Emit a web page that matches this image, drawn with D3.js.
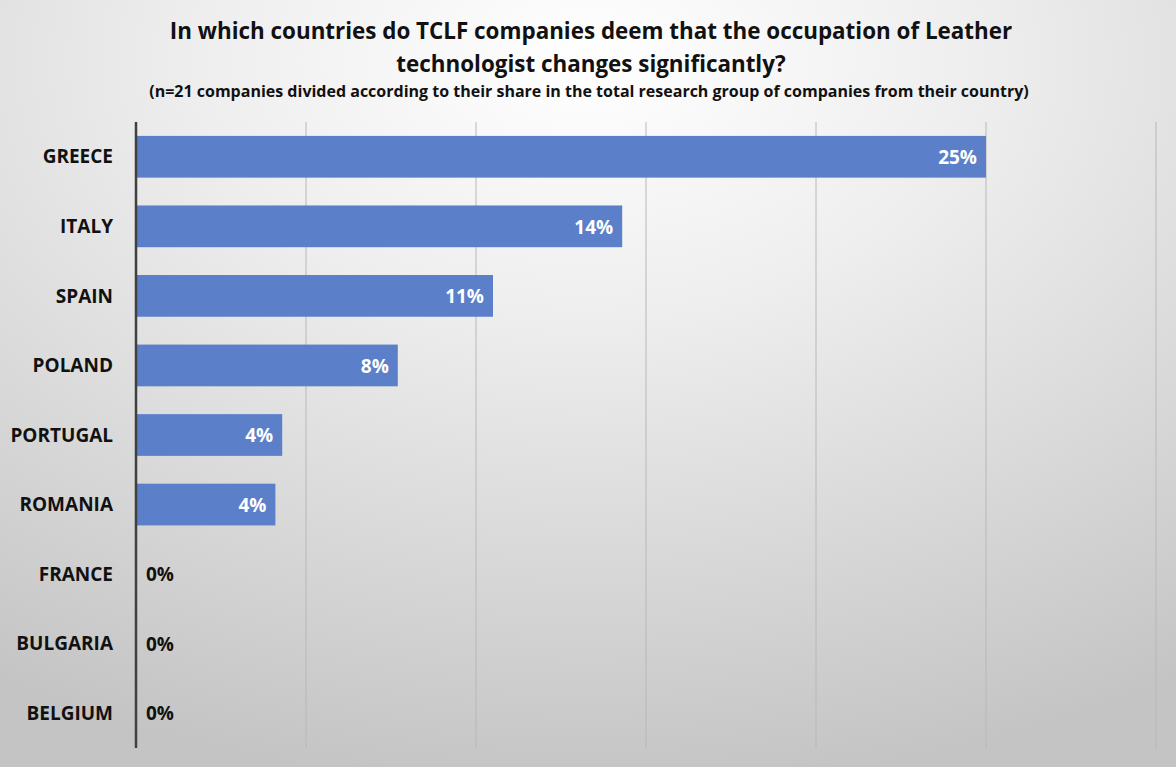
<!DOCTYPE html>
<html><head><meta charset="utf-8">
<script src="https://cdn.jsdelivr.net/npm/d3@7"></script>
<style>html,body{margin:0;padding:0;overflow:hidden;background:#fff}</style>
</head><body><svg id="chart" width="1176" height="767"></svg>
<script>
const categories = ["GREECE","ITALY","SPAIN","POLAND","PORTUGAL","ROMANIA","FRANCE","BULGARIA","BELGIUM"];
const values = [25, 14.3, 10.5, 7.7, 4.3, 4.1, 0, 0, 0];
const valueLabels = ["25%","14%","11%","8%","4%","4%","0%","0%","0%"];
const xTicks = [0,5,10,15,20,25,30];
const titleLines = ["In which countries do TCLF companies deem that the occupation of Leather","technologist changes significantly?"];
const subtitle = "(n=21 companies divided according to their share in the total research group of companies from their country)";

const W = 1176, H = 767;
const svg = d3.select("#chart");
const font = "'Open Sans',sans-serif";
const defs = svg.append("defs");
const rg = defs.append("radialGradient").attr("id","bg").attr("cx","50%").attr("cy","8%").attr("r","95%")
  .attr("gradientUnits","objectBoundingBox");
rg.append("stop").attr("offset","0%").attr("stop-color","#ffffff");
rg.append("stop").attr("offset","35%").attr("stop-color","#eeeeee");
rg.append("stop").attr("offset","100%").attr("stop-color","#c4c4c4");
svg.append("rect").attr("width",W).attr("height",H).attr("fill","url(#bg)");

const x = d3.scaleLinear().domain([0,30]).range([136,1156]);
const y = d3.scaleBand().domain(categories).range([122,748]).paddingInner(0.4).paddingOuter(0.2);

// gridlines
svg.append("g").selectAll("line").data(xTicks.slice(1)).join("line")
  .attr("x1",d=>x(d)).attr("x2",d=>x(d)).attr("y1",122).attr("y2",748)
  .attr("stroke","#b8b8b8").attr("stroke-width",1);

// bars
svg.append("g").selectAll("rect").data(values).join("rect")
  .attr("x",x(0)).attr("y",(d,i)=>y(categories[i]))
  .attr("width",d=>x(d)-x(0)).attr("height",y.bandwidth())
  .attr("fill","#5b80c9");

// axis line
svg.append("line").attr("x1",x(0)).attr("x2",x(0)).attr("y1",122).attr("y2",748)
  .attr("stroke","#404040").attr("stroke-width",2.5);

// category labels
svg.append("g").selectAll("text").data(categories).join("text")
  .attr("x",113).attr("y",d=>y(d)+y.bandwidth()/2).attr("dy","0.35em")
  .attr("text-anchor","end").attr("font-family",font).attr("font-weight","bold")
  .attr("font-size",19).attr("fill","#111").text(d=>d);

// value labels
svg.append("g").selectAll("text").data(values).join("text")
  .attr("x",d=> d>0 ? x(d)-9 : x(0)+10)
  .attr("y",(d,i)=>y(categories[i])+y.bandwidth()/2).attr("dy","0.38em")
  .attr("text-anchor",d=> d>0 ? "end":"start")
  .attr("font-family",font).attr("font-weight","bold").attr("font-size",19)
  .attr("fill",d=> d>0 ? "#ffffff" : "#111").text((d,i)=>valueLabels[i]);

// title
svg.append("g").selectAll("text").data(titleLines).join("text")
  .attr("x",591).attr("y",(d,i)=>39+i*33).attr("text-anchor","middle")
  .attr("font-family",font).attr("font-weight","bold").attr("font-size",22.4)
  .attr("fill","#111").text(d=>d);
svg.append("text").attr("x",589).attr("y",97).attr("text-anchor","middle")
  .attr("font-family",font).attr("font-weight","bold").attr("font-size",16)
  .attr("fill","#111").text(subtitle);
</script></body></html>
